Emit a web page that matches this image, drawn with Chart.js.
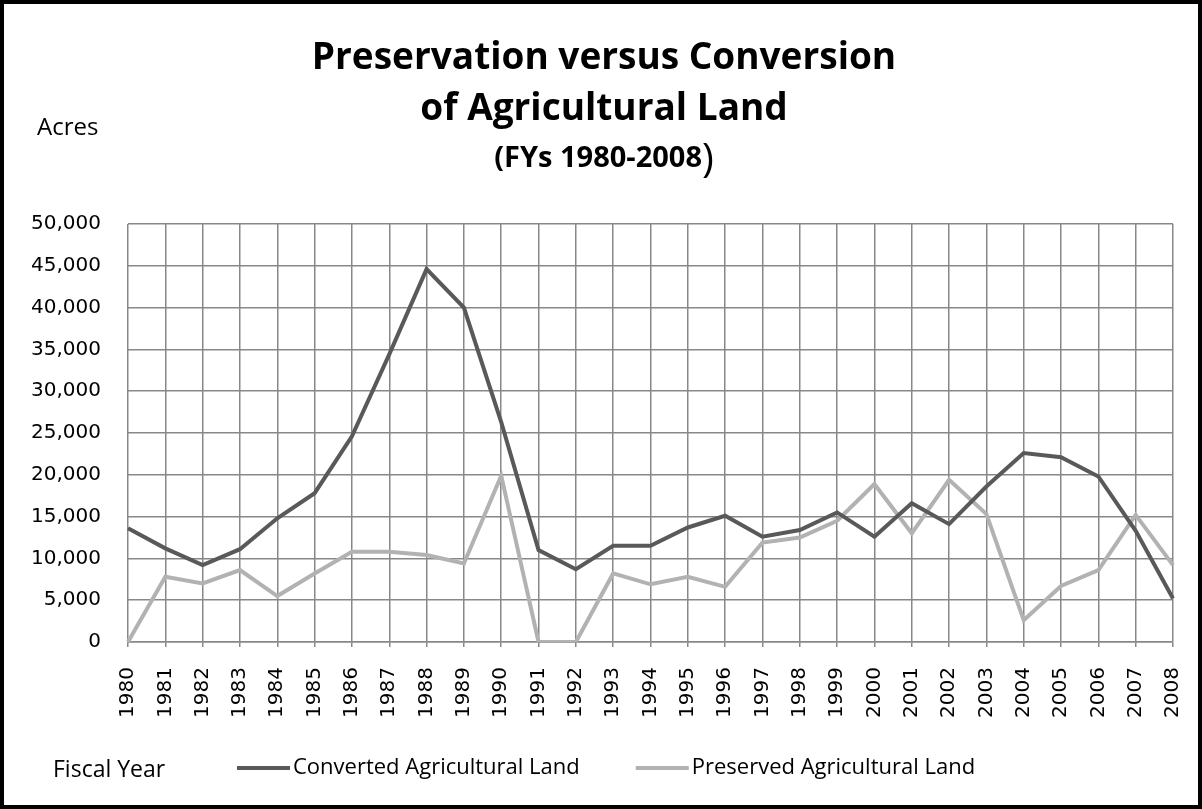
<!DOCTYPE html>
<html>
<head>
<meta charset="utf-8">
<script src="https://cdn.jsdelivr.net/npm/chart.js@4.4.1/dist/chart.umd.min.js"></script>
<style>
  body { margin: 0; background: #fff; }
  canvas { display: block; }
</style>
</head>
<body>
<canvas id="chartId" width="1202" height="809"></canvas>
<script>
// fiscal years and acres
const years = ["1980", "1981", "1982", "1983", "1984", "1985", "1986", "1987", "1988", "1989",
               "1990", "1991", "1992", "1993", "1994", "1995", "1996", "1997", "1998", "1999",
               "2000", "2001", "2002", "2003", "2004", "2005", "2006", "2007", "2008"];
const converted = [13600, 11200, 9200, 11100, 14800, 17800, 24600, 34400, 44600, 40000,
                   26300, 11000, 8700, 11500, 11500, 13700, 15100, 12600, 13400, 15500,
                   12600, 16600, 14100, 18600, 22600, 22100, 19800, 13300, 5200];
const preserved = [0, 7800, 7000, 8600, 5500, 8200, 10800, 10800, 10400, 9400,
                   19900, 0, 0, 8200, 6900, 7800, 6600, 11900, 12500, 14500,
                   18900, 13000, 19400, 15300, 2600, 6700, 8600, 15200, 9200];
const seriesNames = ["Converted Agricultural Land", "Preserved Agricultural Land"];
const titleLines = ["Preservation versus Conversion", "of Agricultural Land"];
const subTitle = "(FYs 1980-2008";

const tickFont = { family: "DejaVu Sans", size: 20 };
const textFont = "'Open Sans', sans-serif";

// titles, axis captions, legend and frame drawn straight onto the canvas
const decor = {
    id: "decor",
    beforeDraw(chart) {
        const c = chart.ctx;
        c.save();
        c.fillStyle = "#fff";
        c.fillRect(0, 0, chart.width, chart.height);
        c.restore();
    },
    afterDraw(chart) {
        const c = chart.ctx;
        const mid = chart.width / 2 + 3;
        c.save();
        c.fillStyle = "#000";
        c.textBaseline = "alphabetic";
        c.textAlign = "center";
        c.font = "bold 37px " + textFont;
        c.fillText(titleLines[0], mid, 69);
        c.fillText(titleLines[1], mid, 120);

        c.font = "bold 29px " + textFont;
        const w1 = c.measureText(subTitle).width;
        c.font = "40px " + textFont;
        const w2 = c.measureText(")").width;
        let sx = mid - (w1 + w2) / 2;
        c.textAlign = "left";
        c.font = "bold 29px " + textFont;
        c.fillText(subTitle, sx, 167);
        c.font = "40px " + textFont;
        c.fillText(")", sx + w1, 172);

        c.font = "24px " + textFont;
        c.fillText("Acres", 37, 135);
        c.font = "23px " + textFont;
        c.fillText("Fiscal Year", 53, 777);

        // legend
        c.font = "22px " + textFont;
        c.textBaseline = "middle";
        let lx = 237;
        chart.data.datasets.forEach(ds => {
            c.strokeStyle = ds.borderColor;
            c.lineWidth = 4;
            c.beginPath();
            c.moveTo(lx, 768);
            c.lineTo(lx + 53, 768);
            c.stroke();
            c.fillStyle = "#000";
            c.fillText(ds.label, lx + 56, 768);
            lx += 56 + c.measureText(ds.label).width + 56;
        });

        c.strokeStyle = "#000";
        c.lineWidth = 4;
        c.strokeRect(2, 2, chart.width - 4, chart.height - 4);
        c.restore();
    }
};

const chrt = document.getElementById("chartId").getContext("2d");
const chartId = new Chart(chrt, {
    type: "line",
    data: {
        labels: years,
        datasets: [{
            label: seriesNames[0],
            data: converted,
            borderColor: "#595959",
            borderWidth: 4,
            pointRadius: 0,
            tension: 0
        }, {
            label: seriesNames[1],
            data: preserved,
            borderColor: "#b2b2b2",
            borderWidth: 4,
            pointRadius: 0,
            tension: 0
        }]
    },
    options: {
        responsive: false,
        animation: false,
        layout: { padding: { top: 224, right: 29, bottom: 60, left: 0 } },
        plugins: {
            legend: { display: false },
            title: { display: false },
            tooltip: { enabled: false }
        },
        scales: {
            x: {
                offset: false,
                grid: { color: "#888", lineWidth: 1.5, tickLength: 5 },
                border: { color: "#888", width: 1.5 },
                ticks: {
                    autoSkip: false, minRotation: 90, maxRotation: 90,
                    padding: 20, font: tickFont, color: "#000"
                },
                afterFit: s => {
                    s.height = 107;
                    s.paddingLeft = 0;
                    s.paddingRight = 0;
                }
            },
            y: {
                min: 0, max: 50000,
                grid: { color: "#888", lineWidth: 1.5, drawTicks: false },
                border: { display: false },
                ticks: {
                    stepSize: 5000, padding: 27, font: tickFont, color: "#000",
                    callback: v => v.toLocaleString("en-US")
                },
                afterFit: s => { s.width = 128; }
            }
        }
    },
    plugins: [decor]
});
</script>
</body>
</html>
